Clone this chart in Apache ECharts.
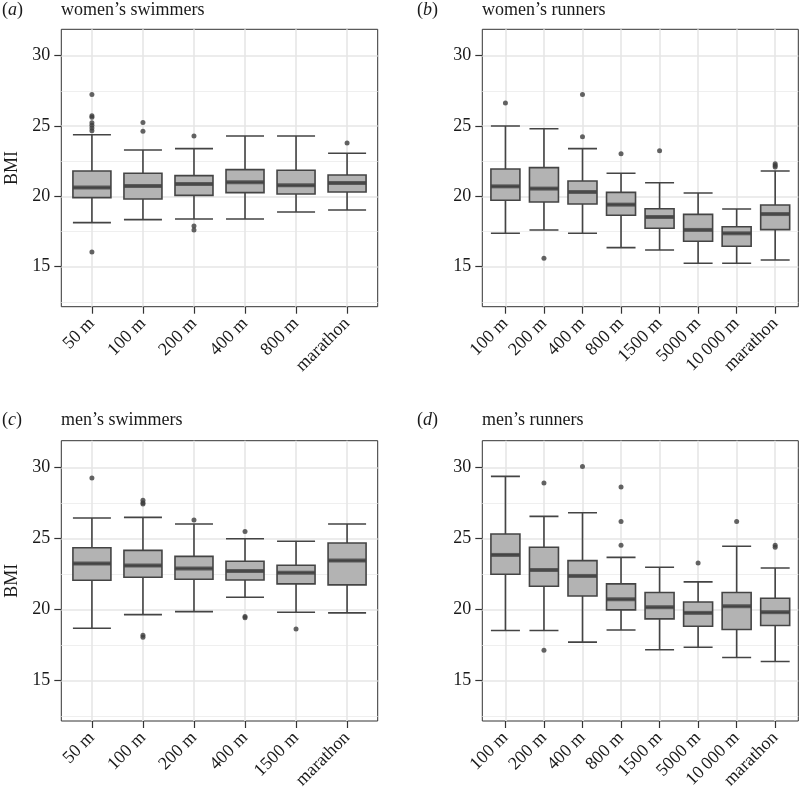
<!DOCTYPE html>
<html><head><meta charset="utf-8">
<script src="https://cdn.jsdelivr.net/npm/echarts@6/dist/echarts.min.js"></script>
<style>html,body{margin:0;padding:0;background:#fff}#c{width:799px;height:792px}</style>
</head><body><div id="c"></div>
<script>
// (a) women's swimmers
const wsCats = ['50 m', '100 m', '200 m', '400 m', '800 m', 'marathon'];
const wsLow  = [18.13, 18.34, 18.39, 18.39, 18.89, 19.03];
const wsQ1   = [19.91, 19.81, 20.07, 20.26, 20.17, 20.31];
const wsMed  = [20.62, 20.73, 20.88, 21.00, 20.78, 20.95];
const wsQ3   = [21.80, 21.64, 21.47, 21.90, 21.85, 21.52];
const wsHigh = [24.38, 23.29, 23.39, 24.29, 24.29, 23.06];
const wsOut  = [[27.25, 25.73, 25.62, 25.24, 25.05, 24.86, 24.67, 16.04], [25.26, 24.62], [24.29, 17.89, 17.61], [], [], [23.79]];

// (b) women's runners
const wrCats = ['100 m', '200 m', '400 m', '800 m', '1500 m', '5000 m', '10\u2009000 m', 'marathon'];
const wrLow  = [17.37, 17.61, 17.37, 16.35, 16.18, 15.24, 15.24, 15.47];
const wrQ1   = [19.72, 19.60, 19.45, 18.65, 17.73, 16.80, 16.45, 17.63];
const wrMed  = [20.71, 20.55, 20.31, 19.41, 18.53, 17.61, 17.37, 18.74];
const wrQ3   = [21.94, 22.04, 21.09, 20.28, 19.12, 18.72, 17.84, 19.38];
const wrHigh = [25.00, 24.81, 23.39, 21.64, 20.97, 20.24, 19.10, 21.80];
const wrOut  = [[26.64], [15.59], [27.25, 24.24], [23.03], [23.25], [], [], [22.32, 22.2, 22.08]];

// (c) men's swimmers
const msCats = ['50 m', '100 m', '200 m', '400 m', '1500 m', 'marathon'];
const msLow  = [18.68, 19.64, 19.85, 20.86, 19.81, 19.76];
const msQ1   = [22.06, 22.27, 22.13, 22.08, 21.80, 21.73];
const msMed  = [23.23, 23.09, 22.88, 22.71, 22.59, 23.44];
const msQ3   = [24.35, 24.16, 23.74, 23.39, 23.11, 24.68];
const msHigh = [26.44, 26.48, 26.02, 24.98, 24.80, 26.02];
const msOut  = [[29.25], [27.68, 27.52, 27.42, 18.19, 18.05], [26.30], [25.48, 19.50, 19.41], [18.63], []];

// (d) men's runners
const mrCats = ['100 m', '200 m', '400 m', '800 m', '1500 m', '5000 m', '10\u2009000 m', 'marathon'];
const mrLow  = [18.52, 18.52, 17.70, 18.56, 17.16, 17.34, 16.62, 16.34];
const mrQ1   = [22.48, 21.63, 20.95, 19.97, 19.34, 18.82, 18.59, 18.87];
const mrMed  = [23.84, 22.78, 22.36, 20.72, 20.16, 19.76, 20.23, 19.81];
const mrQ3   = [25.31, 24.38, 23.44, 21.80, 21.19, 20.53, 21.19, 20.79];
const mrHigh = [29.37, 26.55, 26.81, 23.67, 22.97, 21.94, 24.45, 22.92];
const mrOut  = [[], [28.90, 17.13], [30.07], [28.62, 26.20, 24.52], [], [23.27], [26.20], [24.52, 24.38]];

const yMajorTicks = [15, 20, 25, 30];
const yMinorTicks = [12.5, 17.5, 22.5, 27.5];
const titleTexts = ['women\u2019s swimmers', 'women\u2019s runners', 'men\u2019s swimmers', 'men\u2019s runners'];
const tagLetters = ['a', 'b', 'c', 'd'];

const FONT = '"Liberation Serif","Times New Roman",serif';
const Y_MIN = 12.15, Y_MAX = 31.88;
const TXT = '#1a1a1a';
const LINE = '#444444';

const panels = [
  {cats: wsCats, lo: wsLow, q1: wsQ1, med: wsMed, q3: wsQ3, hi: wsHigh, out: wsOut,
   grid: {left: 61.3, top: 29.3, width: 316.4, height: 277.4}, box: 38, yName: 'BMI', tagX: 2, titleX: 61, titleY: 1},
  {cats: wrCats, lo: wrLow, q1: wrQ1, med: wrMed, q3: wrQ3, hi: wrHigh, out: wrOut,
   grid: {left: 482.3, top: 29.3, width: 316, height: 277.4}, box: 29, yName: '', tagX: 417, titleX: 482, titleY: 1},
  {cats: msCats, lo: msLow, q1: msQ1, med: msMed, q3: msQ3, hi: msHigh, out: msOut,
   grid: {left: 61.3, top: 440.7, width: 316.4, height: 280.3}, box: 38, yName: 'BMI', tagX: 2, titleX: 61, titleY: 411.5},
  {cats: mrCats, lo: mrLow, q1: mrQ1, med: mrMed, q3: mrQ3, hi: mrHigh, out: mrOut,
   grid: {left: 482.3, top: 440.7, width: 316, height: 280.3}, box: 29, yName: '', tagX: 417, titleX: 482, titleY: 411.5}
];

const grid = [], xAxis = [], yAxis = [], series = [], title = [];
panels.forEach((p, i) => {
  const n = p.cats.length;
  const idx = p.cats.map((c, j) => j);
  grid.push(Object.assign({show: true, borderColor: '#333333', borderWidth: 1, backgroundColor: '#ffffff'}, p.grid));
  xAxis.push({
    type: 'value', gridIndex: i, min: -0.6, max: n - 0.4,
    axisLine: {show: false, onZero: false},
    axisTick: {show: true, customValues: idx, length: 7, lineStyle: {color: '#333333', width: 1.2}},
    axisLabel: {customValues: idx, formatter: v => p.cats[Math.round(v)], rotate: 45,
                fontSize: 18, fontFamily: FONT, color: TXT, margin: 14, padding: [5, 0, 0, 0]},
    splitLine: {show: true, lineStyle: {color: '#e6e6e6', width: 1.6}}
  });
  yAxis.push({
    type: 'value', gridIndex: i, min: Y_MIN, max: Y_MAX, position: 'left',
    name: p.yName, nameLocation: 'middle', nameGap: 40, nameRotate: 90, nameMoveOverlap: false,
    nameTextStyle: {fontSize: 18, fontFamily: FONT, color: TXT},
    axisLine: {show: false, onZero: false},
    axisTick: {show: true, customValues: yMajorTicks, length: 7, lineStyle: {color: '#333333', width: 1.2}},
    axisLabel: {customValues: yMajorTicks, fontSize: 18, fontFamily: FONT, color: TXT, margin: 11},
    splitLine: {show: true, lineStyle: {color: '#e6e6e6', width: 1.6}}
  });
  yAxis.push({
    type: 'value', gridIndex: i, min: Y_MIN, max: Y_MAX, position: 'left',
    axisLine: {show: false, onZero: false},
    axisTick: {show: false, customValues: yMinorTicks},
    axisLabel: {show: false, customValues: yMinorTicks},
    splitLine: {show: true, lineStyle: {color: '#ededed', width: 0.9}}
  });
  series.push({
    type: 'boxplot', xAxisIndex: i, yAxisIndex: 2 * i, silent: true,
    boxWidth: [p.box, p.box],
    encode: {x: 0, y: [1, 2, 3, 4, 5]},
    data: idx.map(j => [j, p.lo[j], p.q1[j], p.med[j], p.q3[j], p.hi[j]]),
    itemStyle: {color: '#b3b3b3', borderColor: LINE, borderWidth: 1.6},
    emphasis: {disabled: true}, z: 2
  });
  series.push({
    type: 'scatter', xAxisIndex: i, yAxisIndex: 2 * i, silent: true,
    symbol: 'rect', symbolSize: [p.box, 4],
    data: idx.map(j => [j, p.med[j]]),
    itemStyle: {color: LINE}, z: 3
  });
  const outPts = [];
  p.out.forEach((arr, j) => arr.forEach(v => outPts.push([j, v])));
  series.push({
    type: 'scatter', xAxisIndex: i, yAxisIndex: 2 * i, silent: true,
    symbol: 'circle', symbolSize: 5,
    data: outPts,
    itemStyle: {color: '#3d3d3d'}, z: 4
  });
  title.push({
    text: '({it|' + tagLetters[i] + '})', left: p.tagX, top: p.titleY, padding: 0,
    textStyle: {fontFamily: FONT, fontSize: 18, fontWeight: 'normal', color: TXT,
      rich: {it: {fontFamily: FONT, fontSize: 18, fontStyle: 'italic', color: TXT}}}
  });
  title.push({
    text: titleTexts[i], left: p.titleX, top: p.titleY, padding: 0,
    textStyle: {fontFamily: FONT, fontSize: 18, fontWeight: 'normal', color: TXT}
  });
});

const chart = echarts.init(document.getElementById('c'), null, {renderer: 'canvas'});
chart.setOption({animation: false, backgroundColor: '#ffffff', title, grid, xAxis, yAxis, series});
</script>
</body></html>
